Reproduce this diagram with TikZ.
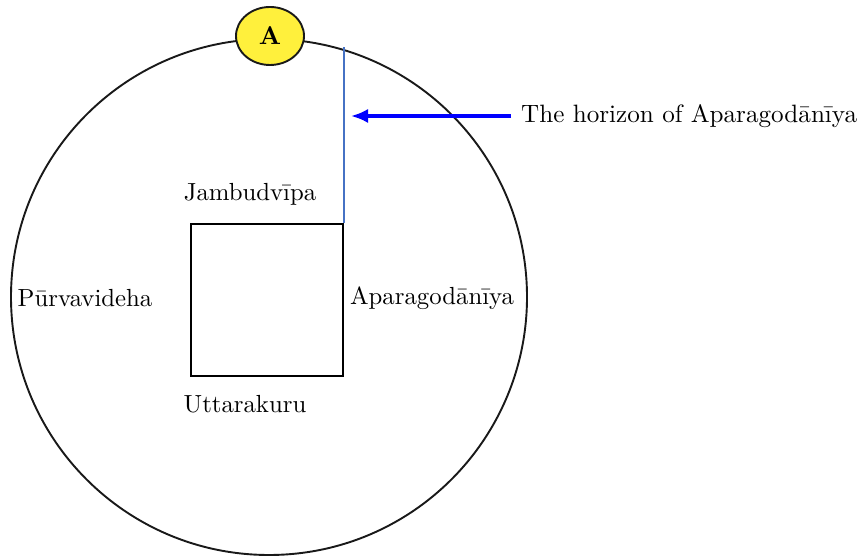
\documentclass[tikz,border=0pt]{standalone}
\usepackage{fontspec}
\usepackage{xcolor}
\usetikzlibrary{positioning,arrows.meta,shapes.geometric}
\definecolor{horizonblue}{RGB}{70,114,196}
\definecolor{sunyellow}{RGB}{255,240,60}
\begin{document}
\begin{tikzpicture}[x=0.42pt, y=0.42pt, >=Latex,
  land/.style={inner sep=2pt, font=\fontsize{10.4}{12.5}\selectfont},
  rim/.style={draw=black!90, line width=0.8pt}]
\useasboundingbox (0,0) rectangle (864,558);
\node[rim, circle, minimum size=516*0.42pt, inner sep=0] (world) at (269,261) {};
\node[draw, line width=0.8pt, minimum size=152*0.42pt, inner sep=0] (sq) at (267,258) {};
\node[rim, ellipse, fill=sunyellow, minimum width=68*0.42pt, minimum height=58*0.42pt, inner sep=0,
  font=\fontsize{10.8}{13}\selectfont\bfseries] (obs) at (270,522) {A};
\node[land] (jam)  at (250,364) {Jambudvīpa};
\node[land] (pur)  at (85,260)  {Pūrvavideha};
\node[land] (apa)  at (432,260) {Aparagodānīya};
\node[land] (utt)  at (245,154) {Uttarakuru};
\node[land, anchor=west, font=\fontsize{10.55}{13}\selectfont] (hlab) at (516,442) {The horizon of Aparagodānīya};
\coordinate (hor) at (sq.north east |- 0,511);
\coordinate (tip) at (351,442);
\draw[horizonblue, line width=0.8pt] (sq.north east) -- (hor);
\draw[->, blue, line width=1.3pt, arrows={-Latex[length=7.2pt, width=6pt]}] ([xshift=-2pt]hlab.west) -- (tip);
\end{tikzpicture}
\end{document}
